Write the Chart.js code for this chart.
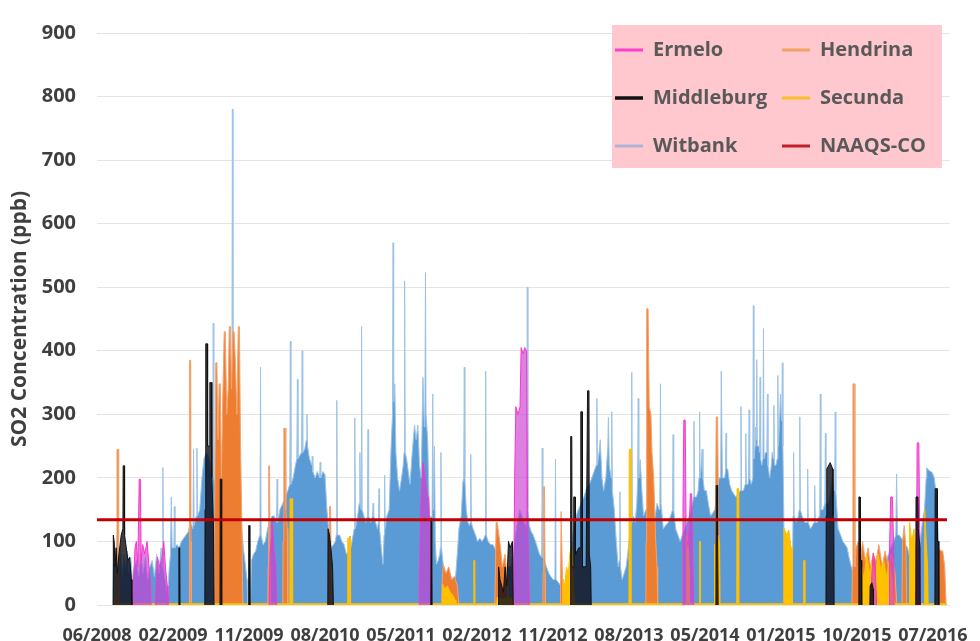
<!DOCTYPE html>
<html>
<head>
<meta charset="utf-8">
<style>
  html, body { margin: 0; padding: 0; background: #ffffff; }
  #wrap { width: 980px; height: 641px; }
</style>
<script src="https://cdn.jsdelivr.net/npm/chart.js@4.4.1/dist/chart.umd.min.js"></script>
</head>
<body>
<div id="wrap"><canvas id="c" width="980" height="641"></canvas></div>
<script>
// ---- Data (x = days after first labelled date, y = SO2 ppb) ----
const tickLabels = ['06/2008','02/2009','11/2009','08/2010','05/2011','02/2012','11/2012','08/2013','05/2014','01/2015','10/2015','07/2016'];
const labelStepDays = 270;
const naaqsLimit = 134;
const naaqsSpan = [0, 3020];

const ermelo = [[126,0],[130,40],[135,90],[140,100],[145,60],[150,198],[154,198],[157,70],[162,95],[170,80],[178,100],[185,60],[190,30],[192,0],[193,null],
[208,0],[210,30],[215,75],[222,60],[230,70],[237,100],[244,55],[250,30],[252,0],[253,null],
[612,0],[615,80],[620,110],[622,136],[625,136],[628,90],[635,60],[638,0],[639,null],
[1145,0],[1150,150],[1158,224],[1166,200],[1174,170],[1178,170],[1183,120],[1185,0],[1186,null],
[1480,0],[1484,200],[1488,312],[1496,300],[1503,312],[1507,405],[1514,395],[1520,405],[1526,400],[1530,150],[1534,40],[1536,0],[1537,null],
[2080,0],[2082,150],[2085,291],[2090,291],[2093,120],[2100,90],[2105,130],[2108,175],[2113,175],[2116,80],[2120,0],[2121,null],
[2748,0],[2752,40],[2758,82],[2765,60],[2770,0],[2771,null],
[2814,0],[2816,90],[2820,170],[2826,170],[2830,100],[2832,0],[2833,null],
[2910,0],[2912,100],[2914,255],[2920,255],[2923,120],[2925,0]];

const hendrina = [[67,0],[69,60],[71,245],[75,245],[77,60],[79,0],[80,null],
[327,0],[328,80],[329,385],[333,385],[334,100],[335,0],[336,null],
[416,0],[418,150],[422,381],[426,381],[430,260],[434,348],[438,348],[442,200],[447,330],[452,430],[456,430],[461,300],[466,340],[470,438],[474,438],[478,340],[483,430],[487,430],[492,380],[497,300],[502,438],[506,438],[510,250],[515,120],[518,0],[519,null],
[607,0],[608,60],[610,219],[613,219],[615,60],[616,0],[617,null],
[660,0],[661,100],[664,278],[669,278],[671,150],[676,120],[678,0],[679,null],
[823,0],[824,60],[826,155],[830,155],[832,60],[833,0],[834,null],
[896,0],[897,108],[900,108],[901,0],[902,null],
[1224,0],[1226,30],[1230,64],[1240,50],[1250,60],[1260,40],[1270,45],[1280,30],[1286,0],[1287,null],
[1413,0],[1415,40],[1418,130],[1422,130],[1428,110],[1434,90],[1440,60],[1450,80],[1458,40],[1460,0],[1461,null],
[1584,0],[1585,50],[1587,186],[1590,186],[1592,50],[1593,0],[1594,null],
[1646,0],[1647,40],[1649,147],[1652,147],[1654,40],[1655,0],[1656,null],
[1950,0],[1951,100],[1953,466],[1958,466],[1962,312],[1968,300],[1972,240],[1978,200],[1985,100],[1990,60],[1992,0],[1993,null],
[2196,0],[2197,100],[2200,296],[2205,296],[2208,150],[2212,80],[2214,0],[2215,null],
[2682,0],[2684,60],[2686,348],[2690,348],[2693,60],[2697,90],[2705,100],[2712,70],[2720,100],[2730,70],[2740,90],[2748,60],[2758,80],[2768,70],[2778,95],[2790,60],[2800,85],[2812,60],[2822,80],[2835,50],[2842,0],[2843,null],
[2860,0],[2862,100],[2868,125],[2874,90],[2877,0],[2878,null],
[2988,0],[2990,90],[2998,85],[3005,85],[3012,60],[3017,0]];

const middleburg = [[57,0],[58,110],[61,100],[64,60],[68,90],[72,50],[78,80],[86,110],[92,120],[93,219],[97,219],[98,110],[104,90],[110,70],[116,75],[122,40],[124,0],[125,null],
[290,0],[291,90],[294,90],[295,0],[296,null],
[383,0],[384,150],[386,200],[387,411],[392,411],[393,250],[400,250],[401,350],[407,350],[408,200],[414,120],[416,0],[417,null],
[437,0],[438,198],[442,198],[443,0],[444,null],
[538,0],[539,125],[542,125],[543,0],[544,null],
[820,0],[821,120],[826,110],[831,90],[837,60],[840,0],[841,null],
[1186,0],[1187,137],[1189,137],[1190,0],[1191,null],
[1426,0],[1427,60],[1432,40],[1438,30],[1444,20],[1450,60],[1456,30],[1462,100],[1468,90],[1476,100],[1479,0],[1480,null],
[1682,0],[1683,265],[1687,265],[1688,60],[1693,60],[1694,170],[1699,170],[1700,80],[1712,90],[1718,90],[1719,304],[1724,304],[1725,60],[1738,60],[1743,337],[1748,337],[1749,80],[1754,60],[1756,0],[1757,null],
[2199,0],[2200,188],[2204,188],[2205,110],[2207,0],[2208,null],
[2590,0],[2591,140],[2593,214],[2605,224],[2614,214],[2615,140],[2618,134],[2619,0],[2620,null],
[2706,0],[2707,170],[2711,170],[2712,70],[2716,70],[2717,0],[2718,null],
[2746,0],[2747,30],[2753,35],[2758,25],[2759,0],[2760,null],
[2909,0],[2910,170],[2917,170],[2918,120],[2924,90],[2925,0],[2926,null],
[2977,0],[2978,183],[2985,183],[2986,100],[2990,100],[2991,0]];

const secunda = [[55,0],[57,2],[58,50],[60,50],[61,2],[685,2],[686,167],[694,167],[695,2],[890,2],[891,105],[899,105],[900,2],[1226,2],[1228,33],[1236,25],[1245,30],[1255,20],[1265,15],[1272,8],[1275,2],[1338,2],[1339,70],[1341,70],[1342,2],[1420,2],[1422,12],[1440,8],[1460,12],[1480,10],[1482,2],[1655,2],[1657,40],[1662,30],[1668,60],[1675,50],[1680,80],[1686,95],[1690,70],[1694,20],[1698,2],[1890,2],[1891,245],[1896,245],[1897,2],[2093,2],[2094,110],[2100,100],[2104,60],[2105,2],[2140,2],[2141,100],[2143,100],[2144,2],[2193,2],[2194,95],[2200,60],[2206,110],[2210,100],[2212,2],[2273,2],[2274,183],[2279,183],[2280,2],[2440,2],[2441,121],[2450,110],[2458,118],[2466,90],[2470,90],[2471,2],[2510,2],[2511,70],[2514,70],[2515,2],[2715,2],[2717,60],[2725,40],[2735,80],[2745,50],[2755,70],[2765,40],[2775,80],[2785,55],[2795,70],[2805,45],[2815,70],[2825,40],[2832,2],[2886,2],[2887,130],[2895,100],[2903,120],[2912,60],[2914,2],[2940,2],[2941,150],[2946,100],[2951,60],[2953,2],[3017,2],[3018,0]];

const witbank = [[55,0],[58,60],[62,100],[66,75],[72,110],[78,60],[84,90],[90,45],[96,80],[102,60],[108,85],[114,50],[120,75],[126,40],[132,60],[140,70],[148,45],[156,80],[164,50],[172,75],[180,40],[188,60],[196,70],[204,45],[212,80],[220,50],[228,90],[232,60],[234,216],[236,60],[242,40],[248,25],[252,15],[256,55],[261,80],[264,170],[267,90],[273,90],[275,155],[277,90],[284,95],[292,90],[300,100],[308,105],[316,110],[324,115],[332,130],[341,120],[343,245],[345,125],[353,140],[355,247],[357,140],[365,150],[373,200],[380,230],[388,240],[396,235],[404,220],[411,200],[413,443],[415,200],[425,180],[433,160],[441,170],[450,200],[460,230],[470,250],[479,250],[481,780],[483,250],[490,220],[497,200],[505,180],[512,130],[520,90],[528,60],[533,40],[536,0],[545,0],[549,70],[556,80],[564,85],[571,100],[579,110],[581,374],[583,110],[590,95],[598,100],[606,120],[614,130],[622,140],[630,140],[638,130],[640,198],[642,130],[650,150],[660,160],[670,170],[678,180],[685,190],[687,415],[689,190],[697,200],[705,220],[710,230],[712,355],[714,230],[720,235],[727,240],[729,400],[731,240],[738,245],[744,260],[746,300],[748,250],[755,230],[763,220],[765,234],[767,210],[775,200],[783,210],[791,200],[793,225],[795,200],[803,210],[810,205],[817,150],[825,110],[832,90],[840,95],[847,100],[850,110],[852,322],[854,110],[862,110],[870,100],[878,95],[886,80],[894,85],[902,90],[910,110],[914,120],[916,294],[918,120],[926,140],[932,160],[934,240],[936,160],[938,150],[940,438],[942,150],[948,140],[955,130],[961,140],[963,276],[965,140],[972,130],[979,140],[981,160],[983,140],[990,130],[996,120],[1000,130],[1002,183],[1004,120],[1010,90],[1016,64],[1020,110],[1022,204],[1024,120],[1030,140],[1038,150],[1045,250],[1050,300],[1052,570],[1054,320],[1058,348],[1062,240],[1068,200],[1075,180],[1082,200],[1088,220],[1091,240],[1093,510],[1095,240],[1100,230],[1106,210],[1112,190],[1120,240],[1128,283],[1134,260],[1140,283],[1146,220],[1152,200],[1158,358],[1163,280],[1165,300],[1167,523],[1169,300],[1175,260],[1181,140],[1185,140],[1186,0],[1189,0],[1190,100],[1193,332],[1195,150],[1199,250],[1202,100],[1206,64],[1212,70],[1218,80],[1220,90],[1222,240],[1224,90],[1230,64],[1240,40],[1250,35],[1258,30],[1266,40],[1274,45],[1280,80],[1286,120],[1294,140],[1300,193],[1303,200],[1305,374],[1307,200],[1312,150],[1318,130],[1324,125],[1326,130],[1328,237],[1330,130],[1336,120],[1345,110],[1352,100],[1360,105],[1368,100],[1375,105],[1379,110],[1381,368],[1383,110],[1390,100],[1398,95],[1406,95],[1413,90],[1420,80],[1428,70],[1436,60],[1444,50],[1452,55],[1460,60],[1470,60],[1478,80],[1486,110],[1494,130],[1502,150],[1510,140],[1518,130],[1524,125],[1527,150],[1529,500],[1531,150],[1536,125],[1543,115],[1550,110],[1558,100],[1565,90],[1572,80],[1580,75],[1582,247],[1584,75],[1590,70],[1597,60],[1605,50],[1612,45],[1620,40],[1627,40],[1629,229],[1631,40],[1640,35],[1648,30],[1656,25],[1664,20],[1672,40],[1680,60],[1688,100],[1695,130],[1702,140],[1710,150],[1720,160],[1730,170],[1740,185],[1750,190],[1758,200],[1766,210],[1774,220],[1776,325],[1778,220],[1784,240],[1788,260],[1794,200],[1800,180],[1808,200],[1815,250],[1817,295],[1820,220],[1827,200],[1829,304],[1831,180],[1838,150],[1845,100],[1852,60],[1856,70],[1858,178],[1860,60],[1866,40],[1873,50],[1880,60],[1888,90],[1895,120],[1898,130],[1900,366],[1902,130],[1906,140],[1912,130],[1918,160],[1921,200],[1923,325],[1925,200],[1930,229],[1936,180],[1942,140],[1950,150],[1960,150],[1968,140],[1975,130],[1983,140],[1990,160],[1997,150],[2000,170],[2002,348],[2004,160],[2012,120],[2020,125],[2030,130],[2038,140],[2045,150],[2047,268],[2049,150],[2056,120],[2064,110],[2072,100],[2080,110],[2088,120],[2096,130],[2104,140],[2110,150],[2116,160],[2119,170],[2121,289],[2123,170],[2130,170],[2136,180],[2139,200],[2141,304],[2143,200],[2147,220],[2150,245],[2153,200],[2158,180],[2165,180],[2172,160],[2180,140],[2188,145],[2195,150],[2202,170],[2210,200],[2216,200],[2218,368],[2220,368],[2222,200],[2230,200],[2233,210],[2235,270],[2237,214],[2241,214],[2248,190],[2255,180],[2262,175],[2270,170],[2278,175],[2286,180],[2288,312],[2290,180],[2297,180],[2303,190],[2305,270],[2307,190],[2313,190],[2315,200],[2317,307],[2319,200],[2325,190],[2330,200],[2332,471],[2334,230],[2338,250],[2340,280],[2342,260],[2344,386],[2346,250],[2352,250],[2354,240],[2356,358],[2358,230],[2362,220],[2366,230],[2368,435],[2370,230],[2375,240],[2380,240],[2382,332],[2384,220],[2390,200],[2396,220],[2399,240],[2403,230],[2405,314],[2407,220],[2412,220],[2417,230],[2419,361],[2421,250],[2426,300],[2428,332],[2431,300],[2433,290],[2435,381],[2437,250],[2440,150],[2443,10],[2470,10],[2473,140],[2475,240],[2477,140],[2485,130],[2492,140],[2495,150],[2497,296],[2499,150],[2505,140],[2515,130],[2523,130],[2525,214],[2527,130],[2535,120],[2542,125],[2548,130],[2550,188],[2552,130],[2560,130],[2566,140],[2568,150],[2570,332],[2572,150],[2580,150],[2586,160],[2588,270],[2590,160],[2600,160],[2612,200],[2618,180],[2621,180],[2623,304],[2625,180],[2633,120],[2642,110],[2650,100],[2658,95],[2665,90],[2672,75],[2680,60],[2688,50],[2695,40],[2703,35],[2710,30],[2720,25],[2730,20],[2740,15],[2750,10],[2760,20],[2770,30],[2780,45],[2790,60],[2798,65],[2805,70],[2812,80],[2820,90],[2830,100],[2838,110],[2841,206],[2844,110],[2850,110],[2858,105],[2865,100],[2872,95],[2880,90],[2888,75],[2895,60],[2902,70],[2910,80],[2918,90],[2925,100],[2932,130],[2940,150],[2946,200],[2948,216],[2955,212],[2962,210],[2968,208],[2975,200],[2980,180],[2985,150],[2990,100],[2995,60],[3000,30],[3004,0]];

// ---- Styling ----
const legendOrder = ['Ermelo','Middleburg','Witbank','Hendrina','Secunda','NAAQS-CO'];
const legendLine = {
  'Ermelo': {color:'#FF3FD0', width:3},
  'Hendrina': {color:'#F2A266', width:3},
  'Middleburg': {color:'#111111', width:3.5},
  'Secunda': {color:'#F9BE2A', width:3},
  'Witbank': {color:'#AEB4D6', width:3},
  'NAAQS-CO': {color:'#C0202A', width:3}
};
const FONT = "'Open Sans', 'Liberation Sans', sans-serif";
const toXY = pts => pts.map(([d, v]) => ({x: d, y: v}));
const lineBase = {pointRadius: 0, pointHoverRadius: 0, tension: 0, borderWidth: 1, fill: 'origin', spanGaps: false};

const legendBoxPlugin = {
  id: 'legendBox',
  afterLayout(chart) {
    const lg = chart.legend;
    if (!lg) return;
    lg.update(400, 195, {left: 0, top: 0, right: 0, bottom: 0});
    lg.left = 587; lg.top = 12; lg.right = 968; lg.bottom = 207;
    if (lg.columnSizes && lg.columnSizes[0]) lg.columnSizes[0].width = 139;
    if (!lg._pinkWrapped) {
      const origDraw = lg.draw;
      lg.draw = function(area) {
        const ctx = this.ctx;
        ctx.save();
        ctx.fillStyle = '#FFC7CE';
        ctx.fillRect(612, 25, 330, 143);
        ctx.restore();
        origDraw.call(this, area);
      };
      lg._pinkWrapped = true;
    }
  }
};

new Chart(document.getElementById('c'), {
  type: 'line',
  data: {
    datasets: [
      {label: 'Ermelo', data: toXY(ermelo), borderColor: '#FF33CC', backgroundColor: 'rgba(205,60,210,0.65)', order: 2, ...lineBase},
      {label: 'Hendrina', data: toXY(hendrina), borderColor: '#F4A46E', backgroundColor: '#ED7D31', order: 4, ...lineBase},
      {label: 'Middleburg', data: toXY(middleburg), borderColor: '#111111', backgroundColor: 'rgba(12,12,24,0.8)', order: 1, ...lineBase},
      {label: 'Secunda', data: toXY(secunda), borderColor: '#FFC000', backgroundColor: '#FFC000', order: 3, ...lineBase},
      {label: 'Witbank', data: toXY(witbank), borderColor: '#9DC3E6', backgroundColor: '#5B9BD5', order: 5, ...lineBase},
      {label: 'NAAQS-CO', data: naaqsSpan.map(d => ({x: d, y: naaqsLimit})), borderColor: '#C00000', borderWidth: 3, fill: false, pointRadius: 0, tension: 0, order: 0}
    ]
  },
  options: {
    responsive: false,
    animation: false,
    events: [],
    layout: {padding: {left: 0, right: 25, top: 23, bottom: 0}},
    plugins: {
      tooltip: {enabled: false},
      legend: {
        position: 'chartArea',
        align: 'start',
        labels: {
          usePointStyle: true,
          pointStyle: 'line',
          pointStyleWidth: 28,
          padding: 28,
          color: '#595959',
          font: {family: FONT, size: 20, weight: 'bold'},
          generateLabels(chart) {
            const items = Chart.defaults.plugins.legend.labels.generateLabels(chart);
            items.forEach(it => {
              const s = legendLine[it.text];
              if (s) { it.strokeStyle = s.color; it.lineWidth = s.width; it.lineCap = 'butt'; }
            });
            return items;
          },
          sort: (a, b) => legendOrder.indexOf(a.text) - legendOrder.indexOf(b.text)
        }
      }
    },
    scales: {
      x: {
        type: 'linear',
        min: 0,
        max: 3030,
        afterBuildTicks: (scale) => { scale.ticks = tickLabels.map((t, i) => ({value: i * labelStepDays})); },
        afterFit: (scale) => { scale.height = 36; },
        grid: {display: false},
        border: {display: false},
        ticks: {
          autoSkip: false,
          maxRotation: 0,
          padding: 12,
          color: '#3F3F3F',
          font: {family: FONT, size: 18, weight: 'bold'},
          callback: (v, i) => tickLabels[i]
        }
      },
      y: {
        min: 0,
        max: 900,
        afterFit: (scale) => { scale.width = 97; },
        grid: {color: '#E4E4E4', lineWidth: 1, drawTicks: false},
        border: {display: false},
        ticks: {
          stepSize: 100,
          padding: 21,
          color: '#3F3F3F',
          font: {family: FONT, size: 20, weight: 'bold'}
        },
        title: {
          display: true,
          text: 'SO2 Concentration (ppb)',
          color: '#3F3F3F',
          font: {family: FONT, size: 21, weight: 'bold'},
          padding: {top: 7, bottom: 0}
        }
      }
    }
  },
  plugins: [legendBoxPlugin]
});
</script>
</body>
</html>
